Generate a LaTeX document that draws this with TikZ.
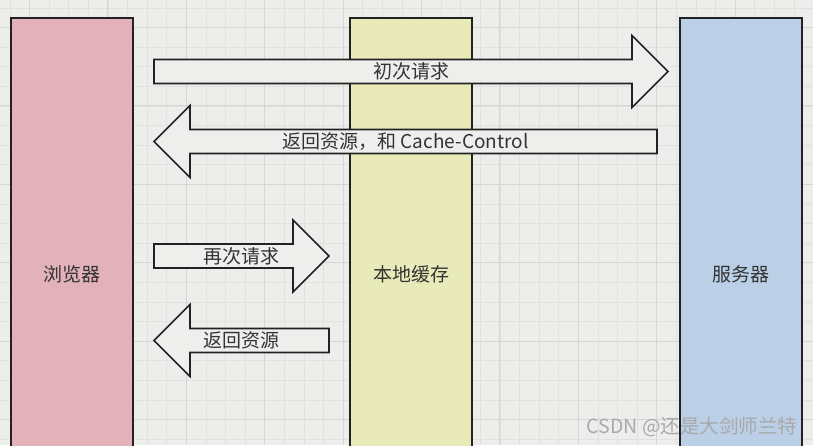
\documentclass[tikz,border=0pt]{standalone}
\usepackage{fontspec}
\setmainfont{Noto Sans CJK SC}
\usetikzlibrary{calc}

\definecolor{bgcol}{HTML}{EDEEEC}
\definecolor{gridminor}{HTML}{E1E2E0}
\definecolor{gridmajor}{HTML}{D5D6D4}
\definecolor{browsercol}{HTML}{E3B1BA}
\definecolor{cachecol}{HTML}{E8EBB9}
\definecolor{servercol}{HTML}{BBCFE7}
\definecolor{arrowcol}{HTML}{EEEFEC}
\definecolor{inkcol}{HTML}{222222}
\definecolor{textcol}{HTML}{333333}
\definecolor{markcol}{HTML}{A8A9A9}

% block arrow: name, tail x, tip x, y, label
\newcommand{\blockarr}[5]{%
	\pgfmathsetmacro{\bx}{#3-36*sign(#3-#2)}
	\draw[blk] (#2,#4-12) -- (\bx,#4-12) -- (\bx,#4-36) -- (#3,#4)
		-- (\bx,#4+36) -- (\bx,#4+12) -- (#2,#4+12) -- cycle;
	\node[lbl] (#1) at ({(#2+#3)/2},#4) {#5};
}

\begin{document}
\begin{tikzpicture}[x=1pt,y=-1pt,
	col/.style={draw=inkcol,line width=1.6pt,minimum width=122pt,minimum height=512pt,
		inner sep=0pt,text=textcol,font=\fontsize{19}{21}\selectfont},
	blk/.style={draw=inkcol,line width=1.6pt,fill=arrowcol,line join=miter},
	lbl/.style={text=textcol,inner sep=0pt,font=\fontsize{19}{21}\selectfont}]
	\useasboundingbox (0,0) rectangle (813,445);
	\clip (0,0) rectangle (813,445);
	\fill[bgcol] (0,0) rectangle (813,445);
	
	% grid
	\foreach \i in {0,...,41}
		\draw[gridminor,line width=.8pt] ({9.9+19.6*\i},0)--({9.9+19.6*\i},445);
	\foreach \i in {0,...,22}
		\draw[gridminor,line width=.8pt] (0,{7.9+19.6*\i})--(813,{7.9+19.6*\i});
	\foreach \i in {0,...,10}
		\draw[gridmajor,line width=1pt] ({29.5+78.4*\i},0)--({29.5+78.4*\i},445);
	\foreach \i in {0,...,5}
		\draw[gridmajor,line width=1pt] (0,{27.5+78.4*\i})--(813,{27.5+78.4*\i});
	
	% columns
	\node[col,fill=browsercol] (browser) at (72,274) {浏览器};
	\node[col,fill=cachecol] (cache) at (411,274) {本地缓存};
	\node[col,fill=servercol] (server) at (741,274) {服务器};
	
	% arrows
	\blockarr{first}{154}{668}{71.5}{初次请求}
	\blockarr{back}{657}{154}{141.5}{返回资源，和 Cache-Control}
	\blockarr{again}{154}{329}{256}{再次请求}
	\blockarr{local}{329}{154}{340.5}{返回资源}
	
	\node[text=markcol,inner sep=0pt,font=\fontsize{19.5}{21}\selectfont] (mark) at (692,427) {CSDN @还是大剑师兰特};
\end{tikzpicture}
\end{document}
